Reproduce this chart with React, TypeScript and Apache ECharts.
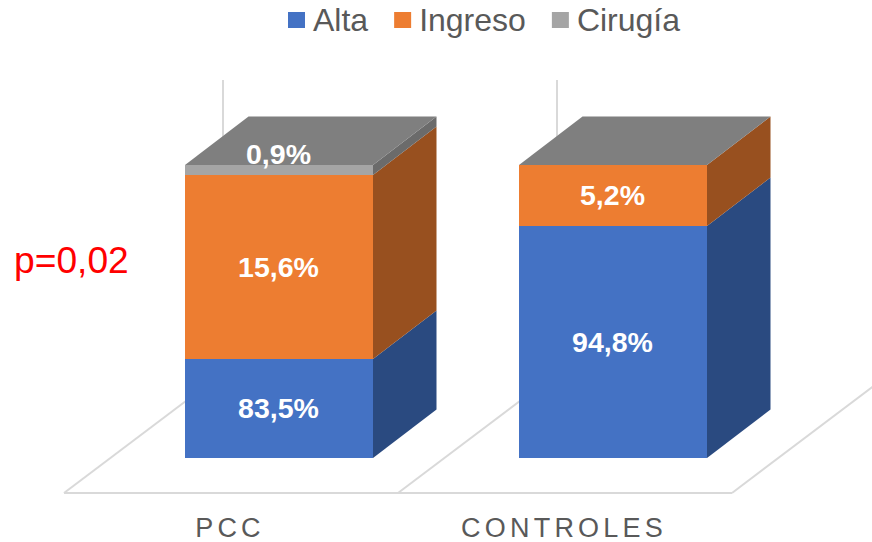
import React, { useEffect, useRef } from "react";
import * as echarts from "echarts";

const categories = ["PCC", "CONTROLES"];
// Heights of the segments as drawn in the reference (share of the stack), and the labels it prints.
const alta = [33.8, 79.2];
const ingreso = [62.8, 20.8];
const cirugia = [3.4, 0];
const altaLabels = ["83,5%", "94,8%"];
const ingresoLabels = ["15,6%", "5,2%"];
const cirugiaLabels = ["0,9%", ""];

const FONT = '"Liberation Sans", Arial, sans-serif';
const BAR_RATIO = 188 / 334;
const FRONT_DX = 48;
const DEPTH_DX = 63.5;
const DEPTH_DY = 48.5;

type Seg = { name: string; values: number[]; base: number[]; labels: string[]; front: string; side: string };
const seriesSpec: Seg[] = [
  { name: "Alta", values: alta, base: [0, 0], labels: altaLabels, front: "#4472c4", side: "#2a4a80" },
  { name: "Ingreso", values: ingreso, base: alta, labels: ingresoLabels, front: "#ed7d31", side: "#98501f" },
  {
    name: "Cirugía",
    values: cirugia,
    base: alta.map((v, i) => v + ingreso[i]),
    labels: cirugiaLabels,
    front: "#a5a5a5",
    side: "#6b6b6b",
  },
];

const floorLine = (x1: number, y1: number, x2: number, y2: number) => ({
  type: "line",
  silent: true,
  shape: { x1, y1, x2, y2 },
  style: { stroke: "#d9d9d9", lineWidth: 2, fill: "none" },
});

function renderFloor(_p: any, api: any) {
  const i = api.value(0);
  const [cx, y0] = api.coord([i, 0]);
  const band = api.size([1, 0])[0];
  const left = cx - band / 2;
  const front = y0 + 35;
  const wallX = left + 159;
  const wallY = front - 120;
  const children: any[] = [
    floorLine(left, front, left + band, front),
    floorLine(left, front, wallX, wallY),
    floorLine(wallX, wallY, wallX, 80),
  ];
  if (i === categories.length - 1) {
    children.push(floorLine(left + band, front, left + band + 159, wallY));
  }
  return { type: "group", children };
}

function makeRender(spec: Seg, isTop: boolean) {
  return (_p: any, api: any) => {
    const i = api.value(0);
    const start = api.value(1);
    const end = api.value(2);
    const band = api.size([1, 0])[0];
    const [cx, yStart] = api.coord([i, start]);
    const yEnd = api.coord([i, end])[1];
    const w = band * BAR_RATIO;
    const x0 = cx + FRONT_DX - w / 2;
    const x1 = x0 + w;
    const children: any[] = [];
    const h = yStart - yEnd;
    if (h > 0) {
      children.push({
        type: "polygon",
        silent: true,
        shape: { points: [[x0, yEnd], [x1, yEnd], [x1, yStart], [x0, yStart]] },
        style: { fill: spec.front },
      });
      children.push({
        type: "polygon",
        silent: true,
        shape: {
          points: [
            [x1, yStart],
            [x1 + DEPTH_DX, yStart - DEPTH_DY],
            [x1 + DEPTH_DX, yEnd - DEPTH_DY],
            [x1, yEnd],
          ],
        },
        style: { fill: spec.side },
      });
    }
    if (isTop) {
      children.push({
        type: "polygon",
        silent: true,
        shape: {
          points: [
            [x0, yEnd],
            [x1, yEnd],
            [x1 + DEPTH_DX, yEnd - DEPTH_DY],
            [x0 + DEPTH_DX, yEnd - DEPTH_DY],
          ],
        },
        style: { fill: "#7f7f7f" },
      });
    }
    const label = spec.labels[i];
    if (label) {
      const labelY = h < 20 ? yEnd - 11 : (yStart + yEnd) / 2;
      children.push({
        type: "text",
        silent: true,
        x: cx + FRONT_DX - 0.5,
        y: labelY,
        style: {
          text: label,
          fill: "#ffffff",
          fontSize: 28.5,
          fontWeight: "bold",
          fontFamily: FONT,
          align: "center",
          verticalAlign: "middle",
        },
      });
    }
    return { type: "group", children };
  };
}

export default function App() {
  const ref = useRef<HTMLDivElement>(null);
  useEffect(() => {
    const chart = echarts.init(ref.current!, undefined, { renderer: "svg" });
    chart.setOption({
      animation: false,
      backgroundColor: "#ffffff",
      grid: { left: 64, top: 165, width: 668, height: 293 },
      xAxis: {
        type: "category",
        data: categories,
        axisLine: { show: false },
        axisTick: { show: false },
        axisLabel: { color: "#595959", fontSize: 27, fontFamily: FONT, margin: 56, padding: [0, 2, 0, 0] },
      },
      yAxis: { type: "value", min: 0, max: 100, show: false, splitLine: { show: false } },
      legend: {
        data: seriesSpec.map((s) => s.name),
        left: 283,
        top: -1,
        icon: "rect",
        itemWidth: 17,
        itemHeight: 16,
        itemGap: 26,
        textStyle: { color: "#595959", fontSize: 32, fontFamily: FONT, padding: [0, 0, 0, 3] },
        selectedMode: false,
      },
      graphic: [
        {
          type: "text",
          left: 14,
          top: 241,
          style: { text: "p=0,02", fill: "#ff0000", fontSize: 37.2, fontFamily: FONT },
        },
      ],
      series: [
        {
          type: "custom",
          name: "floor",
          silent: true,
          clip: false,
          renderItem: renderFloor,
          data: categories.map((_, i) => [i, 0]),
          encode: { x: 0, y: 1 },
        },
        ...seriesSpec.map((s, si) => ({
          type: "custom",
          name: s.name,
          silent: true,
          clip: false,
          itemStyle: { color: s.front },
          renderItem: makeRender(s, si === seriesSpec.length - 1),
          data: categories.map((_, i) => [i, s.base[i], s.base[i] + s.values[i]]),
          encode: { x: 0, y: [1, 2] },
        })),
      ],
    });
    return () => chart.dispose();
  }, []);
  return (
    <>
      <style>{`body{margin:0;background:#fff} text[style*="27px"]{letter-spacing:4.2px}`}</style>
      <div ref={ref} style={{ position: "absolute", left: 0, top: 0, width: 872, height: 542 }} />
    </>
  );
}
